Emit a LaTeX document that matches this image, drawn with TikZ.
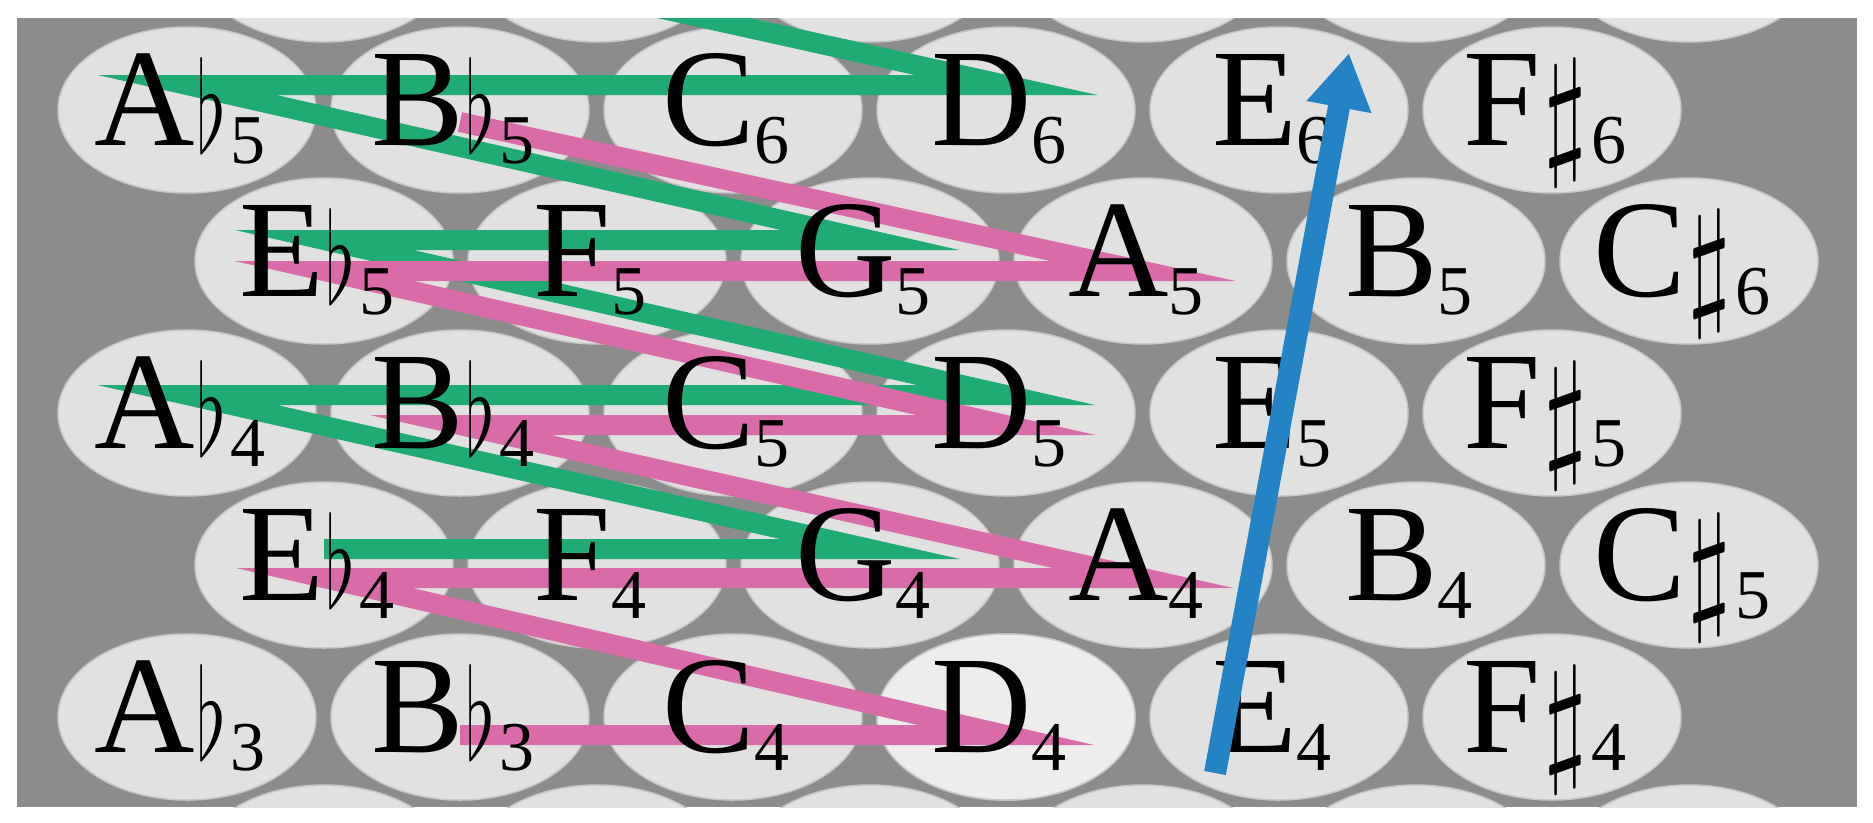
\documentclass[tikz,border=0pt]{standalone}
\usepackage{fontspec}
\usepackage{graphicx}
\setmainfont{Liberation Serif}
\usetikzlibrary{arrows.meta}
\definecolor{bg}{HTML}{8C8C8C}
\definecolor{key}{HTML}{E0E1E0}
\definecolor{keyhi}{HTML}{ECEDEC}
\definecolor{grn}{HTML}{1EAB74}
\definecolor{pnk}{HTML}{D96CA8}
\definecolor{blu}{HTML}{2383C4}
\newcommand{\nt}[3]{#1#2\raisebox{-18pt}{\fontsize{70}{70}\selectfont #3}}
\newcommand{\fl}{\hspace{2pt}\raisebox{-7pt}{\resizebox{30pt}{95pt}{$\flat$}}\hspace{4pt}}
\newcommand{\shp}{\hspace{2pt}\raisebox{-13pt}{\resizebox{44pt}{98pt}{$\sharp$}}\hspace{4pt}}
\begin{document}
\begin{tikzpicture}[x=1pt,y=-1pt,
  keyshape/.style={draw=black!22,line width=1.5pt,fill=key},
  lbl/.style={anchor=base,inner sep=0pt,font=\fontsize{139}{139}\selectfont},
  chain/.style={line width=20pt,line join=miter,miter limit=40,line cap=butt}]
\useasboundingbox (0,0) rectangle (1873,822);
\fill[bg] (17,18) rectangle (1857,807);
\begin{scope}
\clip (17,18) rectangle (1857,807);
% ellipses
\foreach \y in {-41,261,565,868}{
  \foreach \k in {0,...,5}{
    \fill[keyshape] ({324+273*\k},\y) ellipse [x radius=129,y radius=83];}}
\foreach \y in {110,413,717}{
  \foreach \k in {0,...,5}{
    \fill[keyshape] ({187+273*\k},\y) ellipse [x radius=129,y radius=83];}}
\fill[keyshape,fill=keyhi] (1006,717) ellipse [x radius=129,y radius=83];
% chain vertices
\coordinate (gEbf) at (324,549); \coordinate (gGf) at (870,549);
\coordinate (gAbf) at (187,395); \coordinate (gDg) at (1006,395);
\coordinate (gEbg) at (324,240); \coordinate (gGg) at (870,240);
\coordinate (gAbg) at (187,85); \coordinate (gDh) at (1006,85);
\coordinate (gEbh) at (324,-66);
\coordinate (pBbe) at (460,735); \coordinate (pDf) at (1006,735);
\coordinate (pEbf) at (324,578); \coordinate (pAf) at (1143,578);
\coordinate (pBbf) at (460,425); \coordinate (pDg) at (1006,425);
\coordinate (pEbg) at (324,271); \coordinate (pAg) at (1143,271);
\coordinate (pBbg) at (460,122);
\draw[chain,grn] (gEbf) -- (gGf) -- (gAbf) -- (gDg) -- (gEbg) -- (gGg) -- (gAbg) -- (gDh) -- (gEbh);
\draw[chain,pnk] (pBbe) -- (pDf) -- (pEbf) -- (pAf) -- (pBbf) -- (pDg) -- (pEbg) -- (pAg) -- (pBbg);
\end{scope}
% labels
\node[lbl] (Abg) at (180,145) {\nt{A}{\fl}{5}};
\node[lbl] (Bbg) at (453,145) {\nt{B}{\fl}{5}};
\node[lbl] (Ch) at (726,145) {\nt{C}{}{6}};
\node[lbl] (Dh) at (999,145) {\nt{D}{}{6}};
\node[lbl] (Eh) at (1272,145) {\nt{E}{}{6}};
\node[lbl] (Fsh) at (1545,145) {\nt{F}{\shp}{6}};
\node[lbl] (Ebg) at (317,296) {\nt{E}{\fl}{5}};
\node[lbl] (Fg) at (590,296) {\nt{F}{}{5}};
\node[lbl] (Gg) at (863,296) {\nt{G}{}{5}};
\node[lbl] (Ag) at (1136,296) {\nt{A}{}{5}};
\node[lbl] (Bg) at (1409,296) {\nt{B}{}{5}};
\node[lbl] (Csh) at (1682,296) {\nt{C}{\shp}{6}};
\node[lbl] (Abf) at (180,448) {\nt{A}{\fl}{4}};
\node[lbl] (Bbf) at (453,448) {\nt{B}{\fl}{4}};
\node[lbl] (Cg) at (726,448) {\nt{C}{}{5}};
\node[lbl] (Dg) at (999,448) {\nt{D}{}{5}};
\node[lbl] (Eg) at (1272,448) {\nt{E}{}{5}};
\node[lbl] (Fsg) at (1545,448) {\nt{F}{\shp}{5}};
\node[lbl] (Ebf) at (317,600) {\nt{E}{\fl}{4}};
\node[lbl] (Ff) at (590,600) {\nt{F}{}{4}};
\node[lbl] (Gf) at (863,600) {\nt{G}{}{4}};
\node[lbl] (Af) at (1136,600) {\nt{A}{}{4}};
\node[lbl] (Bf) at (1409,600) {\nt{B}{}{4}};
\node[lbl] (Csg) at (1682,600) {\nt{C}{\shp}{5}};
\node[lbl] (Abe) at (180,752) {\nt{A}{\fl}{3}};
\node[lbl] (Bbe) at (453,752) {\nt{B}{\fl}{3}};
\node[lbl] (Cf) at (726,752) {\nt{C}{}{4}};
\node[lbl] (Df) at (999,752) {\nt{D}{}{4}};
\node[lbl] (Ef) at (1272,752) {\nt{E}{}{4}};
\node[lbl] (Fsf) at (1545,752) {\nt{F}{\shp}{4}};
% blue arrow
\coordinate (bs) at (1215,773);
\coordinate (bt) at (1349,53);
\draw[blu,line width=22pt,-{Triangle[length=55pt,width=62pt]}] (bs) -- (bt);
\end{tikzpicture}
\end{document}
